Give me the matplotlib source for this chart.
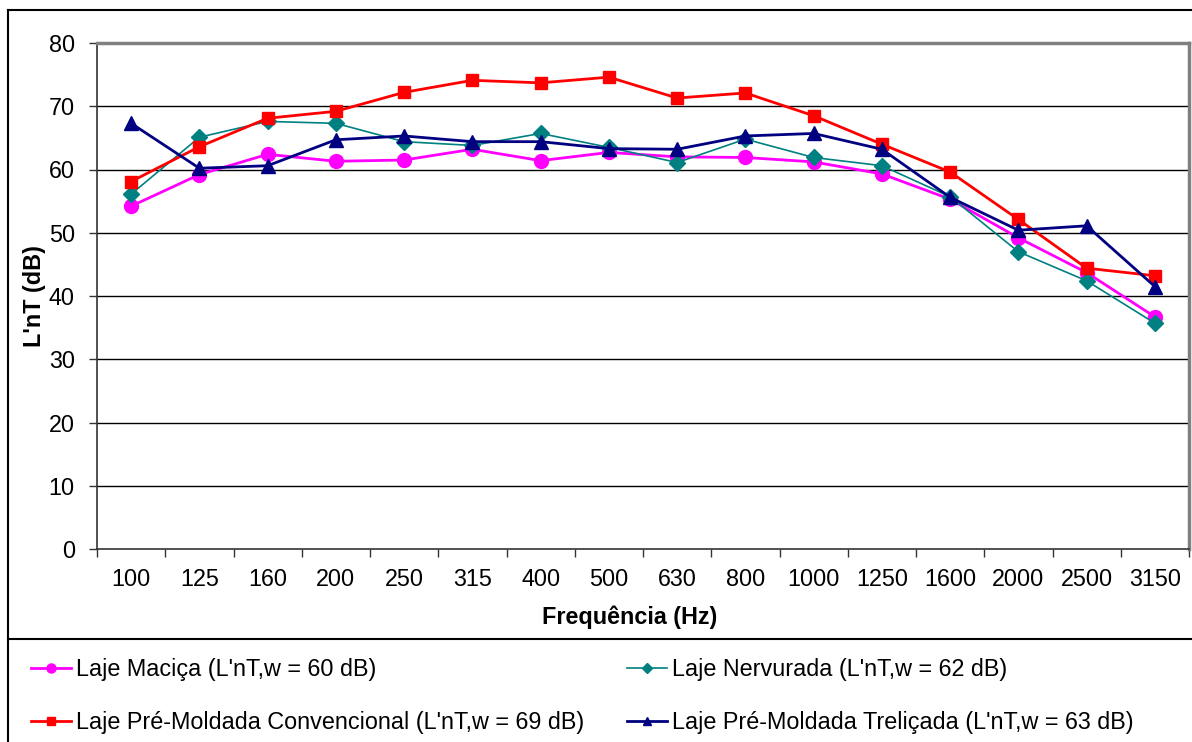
import matplotlib
matplotlib.use("Agg")
import matplotlib.pyplot as plt
from matplotlib.lines import Line2D
import numpy as np

plt.rcParams["font.family"] = ["Liberation Sans", "DejaVu Sans"]

freqs = ["100", "125", "160", "200", "250", "315", "400", "500", "630", "800",
         "1000", "1250", "1600", "2000", "2500", "3150"]
macica = [54.2, 59.2, 62.4, 61.3, 61.5, 63.2, 61.4, 62.7, 62.0, 61.9,
          61.2, 59.3, 55.3, 49.2, 43.7, 36.7]
nervurada = [56.1, 65.1, 67.6, 67.3, 64.4, 63.8, 65.7, 63.5, 61.1, 64.8,
             61.9, 60.6, 55.7, 47.0, 42.4, 35.7]
convencional = [58.1, 63.6, 68.1, 69.2, 72.2, 74.1, 73.7, 74.6, 71.3, 72.1,
                68.5, 64.0, 59.6, 52.1, 44.4, 43.2]
trelicada = [67.3, 60.2, 60.6, 64.7, 65.3, 64.4, 64.4, 63.3, 63.2, 65.3,
             65.7, 63.2, 55.6, 50.4, 51.1, 41.5]

series = [
    ("Laje Maciça (L'nT,w = 60 dB)", macica, "#FF00FF", "o", 10, 2.0),
    ("Laje Nervurada (L'nT,w = 62 dB)", nervurada, "#008080", "D", 8.5, 1.2),
    ("Laje Pré-Moldada Convencional (L'nT,w = 69 dB)", convencional, "#FF0000", "s", 9, 2.0),
    ("Laje Pré-Moldada Treliçada (L'nT,w = 63 dB)", trelicada, "#000080", "^", 9.5, 2.0),
]

FS = 16.8
W, H = 1192, 742
fig = plt.figure(figsize=(W / 100, H / 100), dpi=100)
L, R, T, B = 97, 1189, 43, 549
ax = fig.add_axes([L / W, 1 - B / H, (R - L) / W, (B - T) / H])

x = np.arange(len(freqs))
handles = []
for label, vals, col, mk, ms, lw in series:
    h, = ax.plot(x, vals, color=col, lw=lw, marker=mk, ms=ms, mec=col, mfc=col,
                 label=label, zorder=3, clip_on=False)
    handles.append(h)

ax.set_xlim(-0.5, len(freqs) - 0.5)
ax.set_ylim(0, 80)
ax.set_yticks(np.arange(0, 81, 10))
ax.set_xticks(x)
ax.set_xticklabels(freqs)
ax.set_xticks(np.arange(-0.5, len(freqs), 1), minor=True)
ax.tick_params(axis="x", which="major", length=0, pad=14, labelsize=FS)
ax.tick_params(axis="x", which="minor", length=6, direction="out", width=1, color="#333333")
ax.tick_params(axis="y", length=6, direction="out", width=1, color="#333333", pad=10, labelsize=FS)
for yv in range(10, 80, 10):
    ax.axhline(yv, color="black", lw=1, zorder=1)
for s in ["top", "right"]:
    ax.spines[s].set_color("#808080")
    ax.spines[s].set_linewidth(2.5)
for s in ["left", "bottom"]:
    ax.spines[s].set_color("#333333")
    ax.spines[s].set_linewidth(1.2)

fig.text(35 / W, 1 - 296 / H, "L'nT (dB)", rotation=90, ha="center", va="center",
         fontsize=FS, fontweight="bold")
fig.text(630 / W, 1 - 617 / H, "Frequência (Hz)", ha="center", va="center",
         fontsize=FS, fontweight="bold")

# outer frame and legend separator
fig.add_artist(Line2D([8 / W, 8 / W], [0, 1 - 10 / H], color="black", lw=1.5))
fig.add_artist(Line2D([8 / W, 1], [1 - 10 / H, 1 - 10 / H], color="black", lw=1.5))
fig.add_artist(Line2D([8 / W, 1], [1 - 639 / H, 1 - 639 / H], color="black", lw=1.5))

legkw = dict(frameon=False, fontsize=FS, handlelength=1.7, handletextpad=0.25,
             labelspacing=1.3, markerscale=0.65, borderpad=0, borderaxespad=0)
leg1 = fig.legend([handles[0], handles[2]], [series[0][0], series[2][0]],
                  loc="upper left", bbox_to_anchor=(31 / W, 1 - 658 / H), **legkw)
leg2 = fig.legend([handles[1], handles[3]], [series[1][0], series[3][0]],
                  loc="upper left", bbox_to_anchor=(627 / W, 1 - 658 / H), **legkw)

fig.savefig("out.png", dpi=100)
